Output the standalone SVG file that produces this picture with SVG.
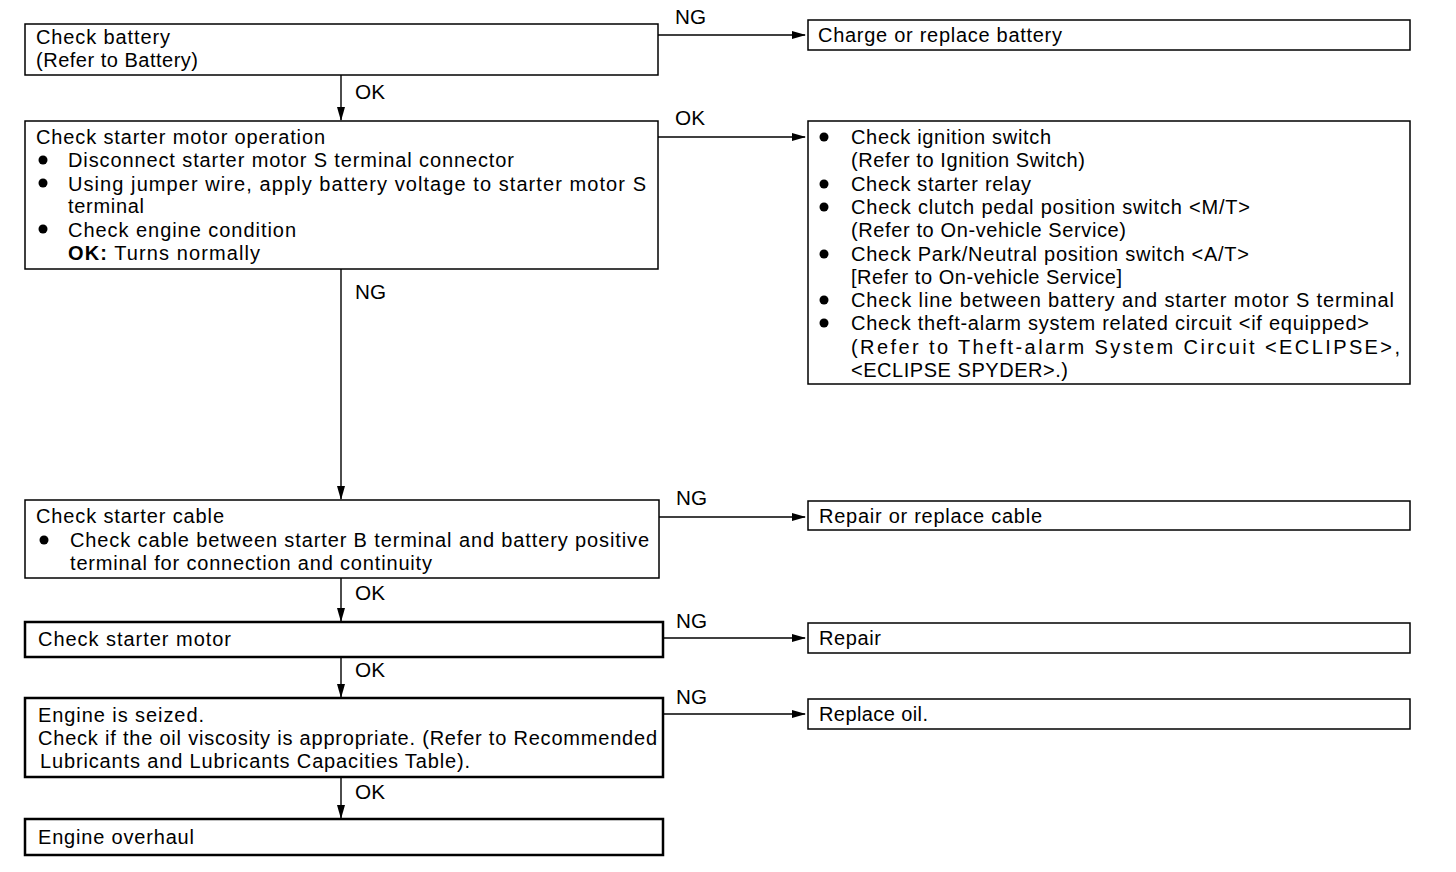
<svg xmlns="http://www.w3.org/2000/svg" width="1456" height="872" viewBox="0 0 1456 872">
<style>
text{font-family:"Liberation Sans",Arial,sans-serif;font-size:20px;fill:#000}
.box{fill:#fff;stroke:#000;stroke-width:1.5}
.tbox{fill:#fff;stroke:#000;stroke-width:2.5}
.ln{stroke:#000;stroke-width:1.4;fill:none}
.b{font-weight:bold}
</style>
<defs>
<marker id="ah" markerWidth="14" markerHeight="10" refX="13" refY="5" orient="auto" markerUnits="userSpaceOnUse">
<path d="M0,1 L14,5 L0,9 Z" fill="#000"/>
</marker>
</defs>
<rect width="1456" height="872" fill="#fff"/>
<g id="connectors">
<line class="ln" x1="658" y1="35" x2="805" y2="35" marker-end="url(#ah)"/>
<text x="675" y="24" textLength="31" lengthAdjust="spacingAndGlyphs">NG</text>
<line class="ln" x1="341" y1="75" x2="341" y2="120" marker-end="url(#ah)"/>
<text x="355" y="99" textLength="30" lengthAdjust="spacingAndGlyphs">OK</text>
<line class="ln" x1="658" y1="137" x2="805" y2="137" marker-end="url(#ah)"/>
<text x="675" y="125" textLength="30" lengthAdjust="spacingAndGlyphs">OK</text>
<line class="ln" x1="341" y1="269" x2="341" y2="499" marker-end="url(#ah)"/>
<text x="355" y="299" textLength="31" lengthAdjust="spacingAndGlyphs">NG</text>
<line class="ln" x1="659" y1="517" x2="805" y2="517" marker-end="url(#ah)"/>
<text x="676" y="505" textLength="31" lengthAdjust="spacingAndGlyphs">NG</text>
<line class="ln" x1="341" y1="578" x2="341" y2="621" marker-end="url(#ah)"/>
<text x="355" y="600" textLength="30" lengthAdjust="spacingAndGlyphs">OK</text>
<line class="ln" x1="663" y1="638" x2="805" y2="638" marker-end="url(#ah)"/>
<text x="676" y="628" textLength="31" lengthAdjust="spacingAndGlyphs">NG</text>
<line class="ln" x1="341" y1="657" x2="341" y2="697" marker-end="url(#ah)"/>
<text x="355" y="677" textLength="30" lengthAdjust="spacingAndGlyphs">OK</text>
<line class="ln" x1="663" y1="714" x2="805" y2="714" marker-end="url(#ah)"/>
<text x="676" y="704" textLength="31" lengthAdjust="spacingAndGlyphs">NG</text>
<line class="ln" x1="341" y1="777" x2="341" y2="818" marker-end="url(#ah)"/>
<text x="355" y="799" textLength="30" lengthAdjust="spacingAndGlyphs">OK</text>
</g>
<g id="n1">
<rect class="box" x="25" y="24" width="633" height="51"/>
<text x="36" y="44" textLength="134" lengthAdjust="spacing">Check battery</text>
<text x="36" y="67" textLength="162" lengthAdjust="spacing">(Refer to Battery)</text>
</g>
<g id="n1ng">
<rect class="box" x="808" y="20" width="602" height="30"/>
<text x="818" y="42" textLength="244" lengthAdjust="spacing">Charge or replace battery</text>
</g>
<g id="n2">
<rect class="box" x="25" y="121" width="633" height="148"/>
<text x="36" y="144" textLength="289" lengthAdjust="spacing">Check starter motor operation</text>
<circle cx="43" cy="160" r="4.5"/>
<text x="68" y="167" textLength="446" lengthAdjust="spacing">Disconnect starter motor S terminal connector</text>
<circle cx="43" cy="183" r="4.5"/>
<text x="68" y="191" textLength="578" lengthAdjust="spacing">Using jumper wire, apply battery voltage to starter motor S</text>
<text x="68" y="213" textLength="76" lengthAdjust="spacing">terminal</text>
<circle cx="43" cy="229" r="4.5"/>
<text x="68" y="237" textLength="228" lengthAdjust="spacing">Check engine condition</text>
<text x="68" y="260" textLength="192" lengthAdjust="spacing"><tspan class="b">OK:</tspan> Turns normally</text>
</g>
<g id="n2ok">
<rect class="box" x="808" y="121" width="602" height="263"/>
<circle cx="824" cy="137" r="4.5"/>
<text x="851" y="144" textLength="200" lengthAdjust="spacing">Check ignition switch</text>
<text x="851" y="167" textLength="234" lengthAdjust="spacing">(Refer to Ignition Switch)</text>
<circle cx="824" cy="184" r="4.5"/>
<text x="851" y="191" textLength="180" lengthAdjust="spacing">Check starter relay</text>
<circle cx="824" cy="207" r="4.5"/>
<text x="851" y="214" textLength="399" lengthAdjust="spacing">Check clutch pedal position switch &lt;M/T&gt;</text>
<text x="851" y="237" textLength="275" lengthAdjust="spacing">(Refer to On-vehicle Service)</text>
<circle cx="824" cy="254" r="4.5"/>
<text x="851" y="261" textLength="398" lengthAdjust="spacing">Check Park/Neutral position switch &lt;A/T&gt;</text>
<text x="851" y="284" textLength="271" lengthAdjust="spacing">[Refer to On-vehicle Service]</text>
<circle cx="824" cy="300" r="4.5"/>
<text x="851" y="307" textLength="543" lengthAdjust="spacing">Check line between battery and starter motor S terminal</text>
<circle cx="824" cy="323" r="4.5"/>
<text x="851" y="330" textLength="518" lengthAdjust="spacing">Check theft-alarm system related circuit &lt;if equipped&gt;</text>
<text x="851" y="354" textLength="549" lengthAdjust="spacing">(Refer to Theft-alarm System Circuit &lt;ECLIPSE&gt;,</text>
<text x="851" y="377" textLength="217" lengthAdjust="spacing">&lt;ECLIPSE SPYDER&gt;.)</text>
</g>
<g id="n3">
<rect class="box" x="25" y="500" width="634" height="78"/>
<text x="36" y="523" textLength="188" lengthAdjust="spacing">Check starter cable</text>
<circle cx="44" cy="540" r="4.5"/>
<text x="70" y="547" textLength="579" lengthAdjust="spacing">Check cable between starter B terminal and battery positive</text>
<text x="70" y="570" textLength="362" lengthAdjust="spacing">terminal for connection and continuity</text>
</g>
<g id="n3ng">
<rect class="box" x="808" y="501" width="602" height="29"/>
<text x="819" y="523" textLength="223" lengthAdjust="spacing">Repair or replace cable</text>
</g>
<g id="n4">
<rect class="tbox" x="25" y="622" width="638" height="35"/>
<text x="38" y="646" textLength="193" lengthAdjust="spacing">Check starter motor</text>
</g>
<g id="n4ng">
<rect class="box" x="808" y="623" width="602" height="30"/>
<text x="819" y="645" textLength="62" lengthAdjust="spacing">Repair</text>
</g>
<g id="n5">
<rect class="tbox" x="25" y="698" width="638" height="79"/>
<text x="38" y="722" textLength="166" lengthAdjust="spacing">Engine is seized.</text>
<text x="38" y="745" textLength="619" lengthAdjust="spacing">Check if the oil viscosity is appropriate. (Refer to Recommended</text>
<text x="40" y="768" textLength="430" lengthAdjust="spacing">Lubricants and Lubricants Capacities Table).</text>
</g>
<g id="n5ng">
<rect class="box" x="808" y="699" width="602" height="30"/>
<text x="819" y="721" textLength="109" lengthAdjust="spacing">Replace oil.</text>
</g>
<g id="n6">
<rect class="tbox" x="25" y="819" width="638" height="36"/>
<text x="38" y="844" textLength="156" lengthAdjust="spacing">Engine overhaul</text>
</g>
</svg>
